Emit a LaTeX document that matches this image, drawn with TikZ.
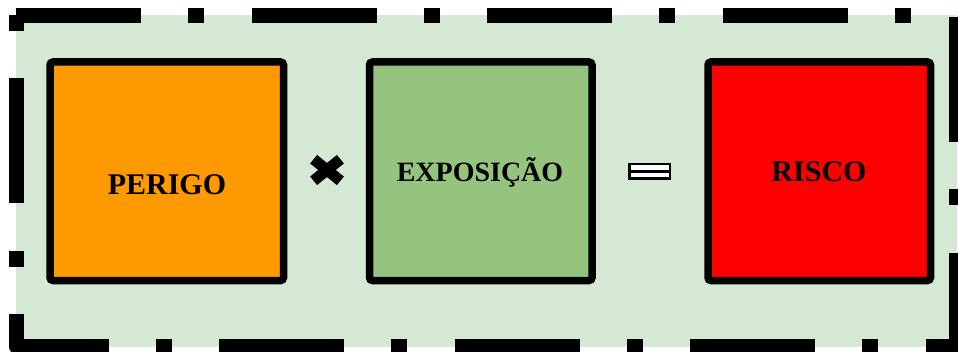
\documentclass[tikz,border=0pt]{standalone}
\usepackage{fontspec}
\setmainfont{Liberation Serif}
\definecolor{bggreen}{HTML}{D5E8D4}
\definecolor{perigocol}{HTML}{FF9900}
\definecolor{expocol}{HTML}{94C47D}
\definecolor{riscocol}{HTML}{FF0000}
\begin{document}
\begin{tikzpicture}[x=1pt,y=1pt,
  box/.style={draw=black, line width=7.5pt, rounded corners=3pt, inner sep=0pt,
              minimum height=218.5pt},
  lbl/.style={font=\bfseries\fontsize{30}{36}\selectfont, inner sep=0pt, anchor=base},
  frame/.style={line width=15pt, line join=round, line cap=butt,
                dash pattern=on 125pt off 47.25pt on 16pt off 47.25pt},
  opbox/.style={draw=black, fill=white, line width=2.5pt, inner sep=0pt,
                minimum width=40.5pt, minimum height=14.5pt}]
\clip (0,0) rectangle (958,351);
\useasboundingbox (0,0) rectangle (958,351);
% background panel
\coordinate (tl) at (16,335.5);
\coordinate (tr) at (956.5,335.5);
\coordinate (br) at (956.5,4.5);
\coordinate (bl) at (16,4.5);
\fill[bggreen] (bl) rectangle (tr);
\draw[frame] (tl) -- (tr) -- (br) -- (bl) -- cycle;
% boxes
\node[box, fill=perigocol, minimum width=233.5pt] (perigo) at (166.75,179.75) {};
\node[box, fill=expocol, minimum width=222.5pt] (expo) at (480.75,179.75) {};
\node[box, fill=riscocol, minimum width=222.5pt] (risco) at (819.25,179.75) {};
% labels
\node[lbl] (tperigo) at (167,156) {PERIGO};
\node[lbl, font=\bfseries\fontsize{28}{34}\selectfont] (texpo) at (480,169) {EXPOSIÇÃO};
\node[lbl] (trisco) at (819,169) {RISCO};
% multiplication sign
\coordinate (times) at (327,181);
\begin{scope}[shift={(times)}]
  \draw[line width=11pt, line cap=butt] (-13.4,-10.8) -- (13.4,10.8);
  \draw[line width=11pt, line cap=butt] (-13.4,10.8) -- (13.4,-10.8);
\end{scope}
% equals sign
\node[opbox] (eq) at (649.5,179.5) {};
\draw[line width=2.5pt] (eq.west) -- (eq.east);
\end{tikzpicture}
\end{document}
